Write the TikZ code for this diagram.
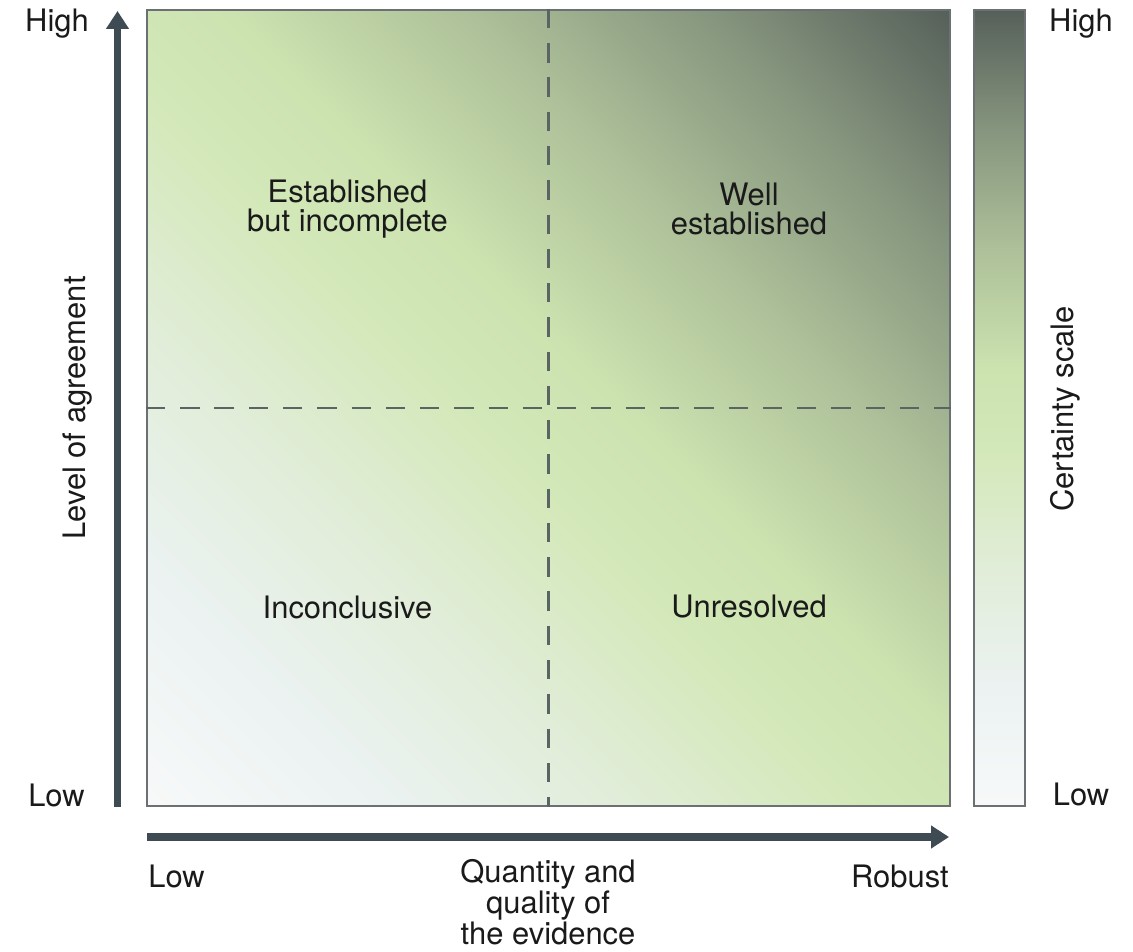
\documentclass[tikz,border=0pt]{standalone}
\usepackage{fontspec}
\setmainfont{TeX Gyre Heros}
\usetikzlibrary{arrows.meta,positioning}

\definecolor{axiscol}{HTML}{3E4B53}
\definecolor{framecol}{HTML}{6B7072}
\definecolor{dashcol}{HTML}{5A6462}
\definecolor{txtcol}{HTML}{1A1A1A}
\definecolor{cLow}{HTML}{F7F9F9}
\definecolor{cPale}{HTML}{EBF2F1}
\definecolor{cMist}{HTML}{E1EDD8}
\definecolor{cLight}{HTML}{D3E8B8}
\definecolor{cGreen}{HTML}{CCE2AF}
\definecolor{cMid}{HTML}{ADC099}
\definecolor{cDark}{HTML}{86957E}
\definecolor{cHigh}{HTML}{56605A}
% bar: low..high between 25bp and 75bp
\pgfdeclareverticalshading{certainty}{100bp}{color(0bp)=(cLow); color(25bp)=(cLow);
  color(32.5bp)=(cPale); color(40bp)=(cMist); color(47.5bp)=(cLight); color(52.5bp)=(cGreen);
  color(60bp)=(cMid); color(67.5bp)=(cDark); color(75bp)=(cHigh); color(100bp)=(cHigh)}
% square, turned by 45 degrees: corner to corner spans 14.6bp..85.4bp
\pgfdeclareverticalshading{certaintydiag}{100bp}{color(0bp)=(cLow); color(14.6bp)=(cLow);
  color(25.3bp)=(cPale); color(35.9bp)=(cMist); color(46.5bp)=(cLight); color(53.5bp)=(cGreen);
  color(64.1bp)=(cMid); color(74.8bp)=(cDark); color(85.4bp)=(cHigh); color(100bp)=(cHigh)}

\begin{document}
\begin{tikzpicture}[font=\fontsize{17.6}{16.2}\selectfont, text=txtcol]
	\tikzstyle{lbl}=[inner sep=0pt, align=center]
	\tikzstyle{panel}=[draw=framecol, line width=1.2pt, inner sep=0pt]
	\tikzstyle{divider}=[dashcol, line width=1.5pt, dash pattern=on 11pt off 8.5pt]
	\tikzstyle{axis}=[axiscol, line width=4.5pt, -{Triangle[length=0.36cm,width=0.44cm]}]

	\useasboundingbox[fill=white] (0,0) rectangle (22.66,19.02);

	\node[panel, shading=certaintydiag, shading angle=-45, minimum width=16.06cm, minimum height=15.92cm](grid) at (10.97,10.86){};
	\node[panel, shading=certainty, minimum width=1.02cm, minimum height=15.92cm](scale) at (19.99,10.86){};

	\draw[divider] (grid.north) -- (grid.south);
	\draw[divider] (grid.west) -- (grid.east);

	\node[lbl](estinc) at (6.95,14.84){Established\\but incomplete};
	\node[lbl](wellest) at (14.98,14.84){Well\\established};
	\node[lbl](incon) at (6.95,6.88){Inconclusive};
	\node[lbl](unres) at (14.98,6.88){Unresolved};

	\coordinate (ytail) at (2.35,2.88);
	\coordinate (yhead) at (2.35,18.80);
	\coordinate (xtail) at (2.94,2.28);
	\coordinate (xhead) at (18.98,2.28);
	\draw[axis] (ytail) -- (yhead);
	\draw[axis] (xtail) -- (xhead);

	\node[lbl, anchor=base](yhigh) at (1.14,18.38){High};
	\node[lbl, anchor=base](ylow) at (1.13,2.88){Low};
	\node[lbl, rotate=90](ytitle) at (1.56,10.86){Level of agreement};

	\node[lbl, anchor=base](shigh) at (21.62,18.38){High};
	\node[lbl, anchor=base](slow) at (21.62,2.90){Low};
	\node[lbl, rotate=90](stitle) at (21.30,10.84){Certainty scale};

	\node[lbl, anchor=base west](xlow) at (2.96,1.28){Low};
	\node[lbl, anchor=base east](xhigh) at (18.98,1.28){Robust};
	\node[lbl, anchor=north, font=\fontsize{17.6}{15.6}\selectfont](xtitle) at (10.96,1.84){Quantity and\\quality of\\the evidence};
\end{tikzpicture}
\end{document}
